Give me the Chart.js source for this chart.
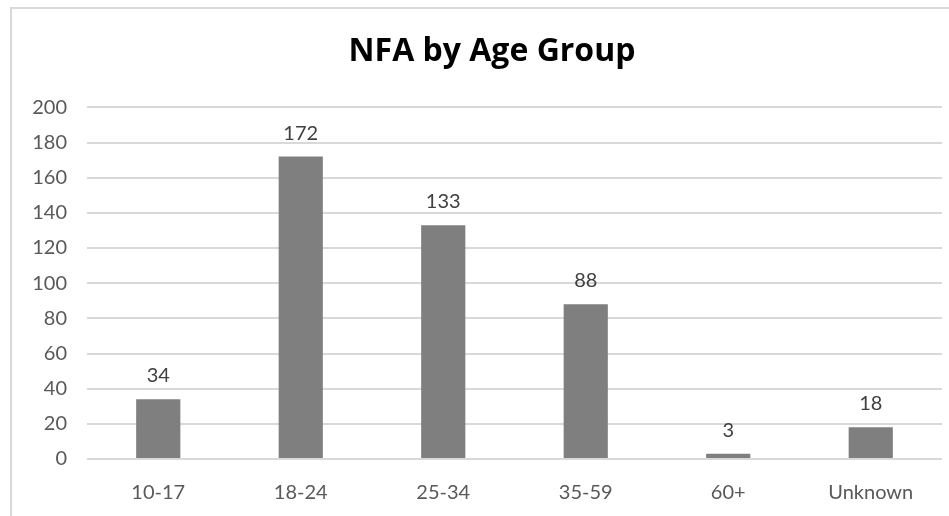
<!DOCTYPE html>
<html>
<head>
<meta charset="utf-8">
<script src="https://cdn.jsdelivr.net/npm/chart.js@4/dist/chart.umd.min.js"></script>
<style>
  html, body { margin: 0; padding: 0; background: #fff; overflow: hidden; width: 949px; height: 516px; }
  #box { position: absolute; left: 10px; top: 7px; width: 960px; height: 520px; border: 2px solid #d9d9d9; background: #fff; }
  #c { display: block; }
</style>
</head>
<body>
<div id="box"><canvas id="c" width="960" height="510"></canvas></div>
<script>
const categories = ["10-17", "18-24", "25-34", "35-59", "60+", "Unknown"];
const values = [34, 172, 133, 88, 3, 18];
const yTicks = [0, 20, 40, 60, 80, 100, 120, 140, 160, 180, 200];
const titleText = "NFA by Age Group";

const labelPlugin = {
  id: 'barLabels',
  afterDatasetsDraw(chart) {
    const ctx = chart.ctx;
    const meta = chart.getDatasetMeta(0);
    ctx.save();
    ctx.font = '20px Lato';
    ctx.fillStyle = '#404040';
    ctx.textAlign = 'center';
    ctx.textBaseline = 'alphabetic';
    meta.data.forEach((bar, i) => {
      ctx.fillText(String(values[i]), bar.x, bar.y - 17);
    });
    ctx.restore();
  }
};

new Chart(document.getElementById('c'), {
  type: 'bar',
  data: {
    labels: categories,
    datasets: [{
      data: values,
      backgroundColor: '#7f7f7f',
      borderWidth: 0,
      categoryPercentage: 1,
      barPercentage: 0.31
    }]
  },
  options: {
    responsive: false,
    animation: false,
    devicePixelRatio: 1,
    layout: { padding: 0 },
    plugins: {
      legend: { display: false },
      tooltip: { enabled: false },
      title: {
        display: true,
        text: titleText,
        color: '#000000',
        font: { family: 'Open Sans', size: 32, weight: 'bold' },
        padding: { top: 24, bottom: 36 }
      }
    },
    scales: {
      x: {
        grid: { display: false, drawTicks: false },
        border: { display: false },
        ticks: { color: '#595959', font: { family: 'Lato', size: 20 }, padding: 22, maxRotation: 0 },
        afterFit(scale) { scale.height = 60; }
      },
      y: {
        min: 0, max: 200,
        afterBuildTicks(scale) { scale.ticks = yTicks.map(v => ({ value: v })); },
        grid: { color: '#d9d9d9', lineWidth: 2, drawTicks: false },
        border: { display: false },
        ticks: { color: '#595959', font: { family: 'Lato', size: 20 }, padding: 20 },
        afterFit(scale) { scale.width = 75; }
      },
      yRight: {
        position: 'right',
        min: 0, max: 200,
        grid: { display: false, drawTicks: false },
        border: { display: false },
        ticks: { display: false },
        afterFit(scale) { scale.width = 30; }
      }
    }
  },
  plugins: [labelPlugin]
});
</script>
</body>
</html>
